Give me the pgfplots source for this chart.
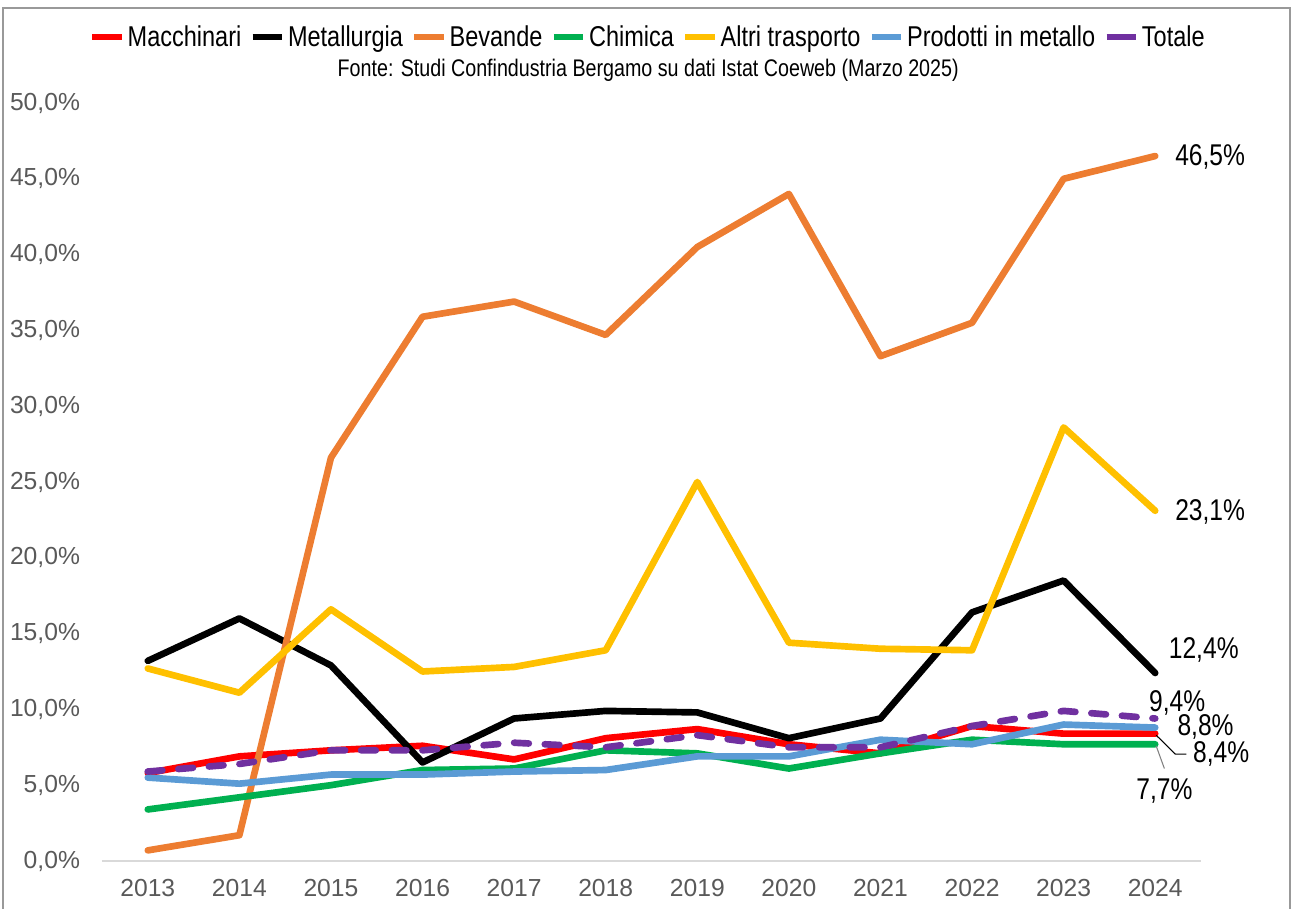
\documentclass[border=0pt]{standalone}
\usepackage{fontspec}
\setmainfont{Liberation Sans}
\newfontfamily\narrow{Liberation Sans}[FakeStretch=0.82]
\usepackage{pgfplots}
\pgfplotsset{compat=1.18}
\definecolor{cRed}{HTML}{FF0000}
\definecolor{cOrange}{HTML}{ED7D31}
\definecolor{cGreen}{HTML}{00B050}
\definecolor{cYellow}{HTML}{FFC000}
\definecolor{cBlue}{HTML}{5B9BD5}
\definecolor{cPurple}{HTML}{7030A0}
\definecolor{cTick}{HTML}{595959}
\definecolor{cAxis}{HTML}{D9D9D9}
\begin{document}
\begin{tikzpicture}
\begin{axis}[
  name=ax,
  scale only axis,
  width=824.25pt, height=568.5pt,
  xmin=2012.5, xmax=2024.5,
  ymin=0, ymax=50,
  clip=false,
  axis x line*=bottom, axis y line*=left,
  x axis line style={draw=cAxis, line width=1.5pt, -},
  y axis line style={draw=none},
  major tick length=0pt,
  xtick={2013,2014,2015,2016,2017,2018,2019,2020,2021,2022,2023,2024},
  xticklabels={2013,2014,2015,2016,2017,2018,2019,2020,2021,2022,2023,2024},
  ytick={0,5,10,15,20,25,30,35,40,45,50},
  yticklabels={{0,0\%},{5,0\%},{10,0\%},{15,0\%},{20,0\%},{25,0\%},{30,0\%},{35,0\%},{40,0\%},{45,0\%},{50,0\%}},
  ticklabel style={font=\fontsize{18.5}{20}\selectfont, text=cTick},
  xticklabel style={yshift=-10pt},
  yticklabel style={anchor=east, xshift=-13pt},
  legend columns=-1,
  legend style={at={(0.497,1.087)}, anchor=center, draw=none, fill=none,
    font=\narrow\fontsize{21.5}{24}\selectfont,
    /tikz/every even column/.append style={column sep=4pt},
    nodes={inner xsep=2pt}},
  legend image code/.code={\draw[#1, solid, line cap=butt, line width=5pt] (0pt,0pt) -- (22pt,0pt);},
  every axis plot/.append style={line width=5pt, line join=round, line cap=round},
]
\addplot[cRed] coordinates {(2013,5.8)(2014,6.9)(2015,7.3)(2016,7.6)(2017,6.7)(2018,8.1)(2019,8.7)(2020,7.7)(2021,7.1)(2022,8.9)(2023,8.4)(2024,8.4)};
\addlegendentry{Macchinari}
\addplot[black] coordinates {(2013,13.2)(2014,16.0)(2015,12.9)(2016,6.5)(2017,9.4)(2018,9.9)(2019,9.8)(2020,8.1)(2021,9.4)(2022,16.4)(2023,18.5)(2024,12.4)};
\addlegendentry{Metallurgia}
\addplot[cOrange] coordinates {(2013,0.7)(2014,1.7)(2015,26.6)(2016,35.9)(2017,36.9)(2018,34.7)(2019,40.5)(2020,44.0)(2021,33.3)(2022,35.5)(2023,45.0)(2024,46.5)};
\addlegendentry{Bevande}
\addplot[cGreen] coordinates {(2013,3.4)(2014,4.2)(2015,5.0)(2016,6.0)(2017,6.1)(2018,7.3)(2019,7.1)(2020,6.1)(2021,7.1)(2022,8.0)(2023,7.7)(2024,7.7)};
\addlegendentry{Chimica}
\addplot[cYellow] coordinates {(2013,12.7)(2014,11.1)(2015,16.6)(2016,12.5)(2017,12.8)(2018,13.9)(2019,25.0)(2020,14.4)(2021,14.0)(2022,13.9)(2023,28.6)(2024,23.1)};
\addlegendentry{Altri trasporto}
\addplot[cBlue] coordinates {(2013,5.5)(2014,5.1)(2015,5.7)(2016,5.7)(2017,5.9)(2018,6.0)(2019,6.9)(2020,6.9)(2021,8.0)(2022,7.7)(2023,9.0)(2024,8.8)};
\addlegendentry{Prodotti in metallo}
\addplot[cPurple, dash pattern=on 11pt off 12pt] coordinates {(2013,5.9)(2014,6.4)(2015,7.3)(2016,7.3)(2017,7.8)(2018,7.5)(2019,8.3)(2020,7.5)(2021,7.5)(2022,8.9)(2023,9.9)(2024,9.4)};
\addlegendentry{Totale}

\node[font=\narrow\fontsize{18}{20}\selectfont] at (rel axis cs:0.497,1.0435) {Fonte: Studi Confindustria Bergamo su dati Istat Coeweb (Marzo 2025)};

\begin{scope}[font=\narrow\fontsize{22.5}{25}\selectfont, inner sep=1pt]
\node at (axis cs:2024.60,46.44) {46,5\%};
\node at (axis cs:2024.60,23.0) {23,1\%};
\node at (axis cs:2024.53,13.9) {12,4\%};
\node at (axis cs:2024.24,10.45) {9,4\%};
\node at (axis cs:2024.55,8.85) {8,8\%};
\node at (axis cs:2024.72,7.05) {8,4\%};
\node at (axis cs:2024.10,4.62) {7,7\%};
\end{scope}
\draw[black, line width=0.8pt] (axis cs:2024.01,8.3) -- (axis cs:2024.22,7.05) -- (axis cs:2024.34,7.05);
\draw[gray, line width=0.8pt] (axis cs:2024.01,7.6) -- (axis cs:2024.10,6.1);
\end{axis}
\path[use as bounding box] (ax.south west) ++(-76.5pt,-36pt) rectangle ++(969.75pt,681.75pt);
\draw[gray!80, line width=1.2pt] ([shift={(-74.25pt,-50pt)}]ax.south west) -- ++(0,689.75pt) -- ++(965.25pt,0) -- ++(0,-689.75pt);
\end{tikzpicture}
\end{document}
